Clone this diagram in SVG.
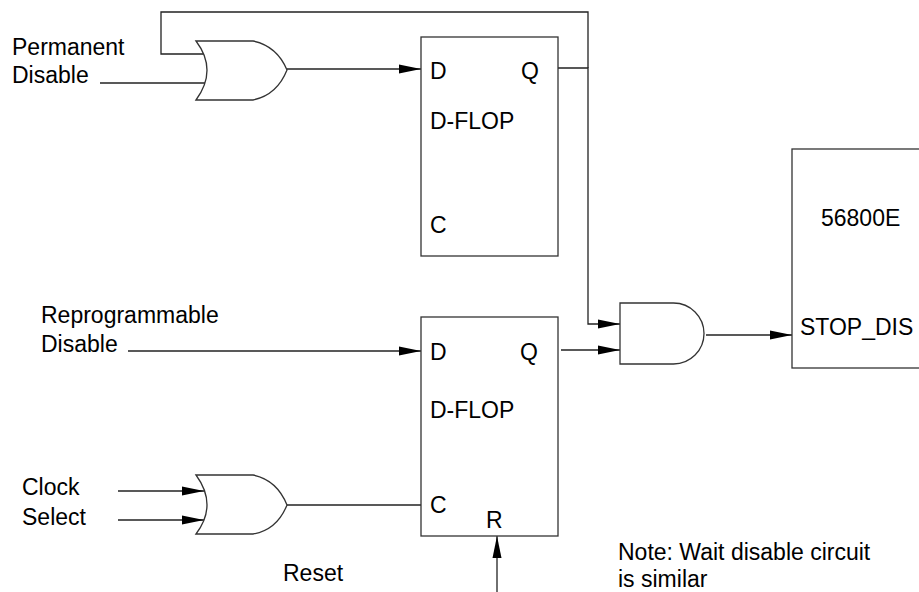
<svg xmlns="http://www.w3.org/2000/svg" width="919" height="592" viewBox="0 0 919 592">
<style>
text{font-family:"Liberation Sans",Arial,sans-serif;font-size:23px;fill:#000}
.w{fill:none;stroke:#222;stroke-width:1.3}
.g{fill:#fff;stroke:#333;stroke-width:1.3}
.b{fill:#fff;stroke:#333;stroke-width:1.3}
</style>
<defs>
<marker id="ah" markerUnits="userSpaceOnUse" markerWidth="22" markerHeight="12" refX="22" refY="6" orient="auto">
<path d="M0,1.5 L22,6 L0,10.5 Z" fill="#000"/>
</marker>
</defs>
<g id="connectors">
<path class="w" d="M588,68 V12 H161 V54 H203"/>
<path class="w" d="M100,83 H206"/>
<path class="w" d="M287,69 H421" marker-end="url(#ah)"/>
<path class="w" d="M558,68 H588 V324 H620" marker-end="url(#ah)"/>
<path class="w" d="M128,351 H421" marker-end="url(#ah)"/>
<path class="w" d="M561,350 H620" marker-end="url(#ah)"/>
<path class="w" d="M706,335 H792" marker-end="url(#ah)"/>
<path class="w" d="M118,491 H204" marker-end="url(#ah)"/>
<path class="w" d="M118,520 H204" marker-end="url(#ah)"/>
<path class="w" d="M287,505 H421"/>
<path class="w" d="M497,592 V536" marker-end="url(#ah)"/>
</g>
<g id="or1">
<path class="g" d="M196,41 L253,41 Q277,46 287,70 Q277,95 253,100 L196,100 Q218,70 196,41 Z"/>
</g>
<g id="dflop1">
<rect class="b" x="421" y="37" width="137" height="219"/>
<text x="430" y="79">D</text>
<text x="521" y="79">Q</text>
<text x="430" y="129">D-FLOP</text>
<text x="430" y="233">C</text>
</g>
<g id="and1">
<path class="g" d="M620,303 H673.5 A30.5,30.5 0 0 1 673.5,364 H620 Z"/>
</g>
<g id="chip">
<rect class="b" x="792" y="149" width="200" height="219"/>
<text x="821" y="226">56800E</text>
<text x="800" y="335">STOP_DIS</text>
</g>
<g id="dflop2">
<rect class="b" x="421" y="317" width="137" height="219"/>
<text x="430" y="360">D</text>
<text x="520" y="360">Q</text>
<text x="430" y="418">D-FLOP</text>
<text x="430" y="513">C</text>
<text x="486" y="528">R</text>
</g>
<g id="or2">
<path class="g" d="M196,475 L253,475 Q277,480 287,505 Q277,530 253,534 L196,534 Q218,505 196,475 Z"/>
</g>
<g id="labels">
<text x="12" y="55">Permanent</text>
<text x="12" y="83">Disable</text>
<text x="41" y="323">Reprogrammable</text>
<text x="41" y="352">Disable</text>
<text x="22" y="495">Clock</text>
<text x="22" y="525">Select</text>
<text x="283" y="581">Reset</text>
<text x="618" y="560">Note: Wait disable circuit</text>
<text x="618" y="587">is similar</text>
</g>
</svg>
